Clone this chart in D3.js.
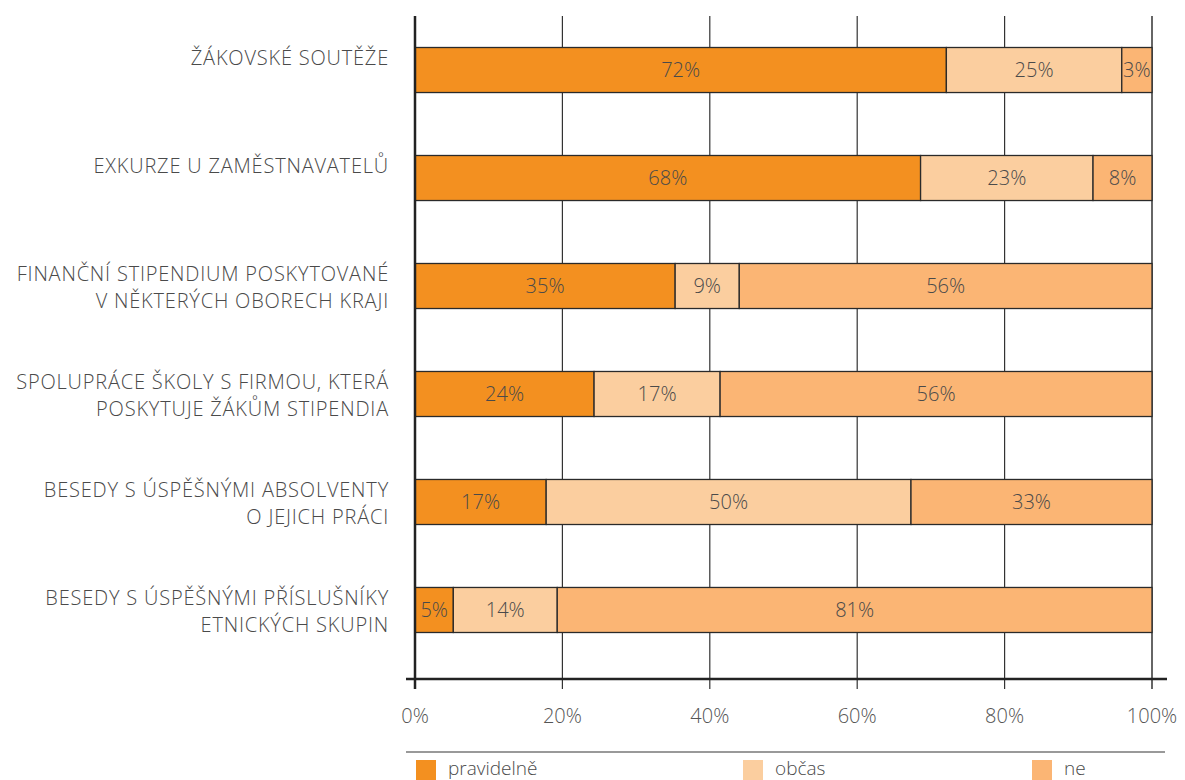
<!DOCTYPE html>
<html>
<head>
<meta charset="utf-8">
<script src="https://cdn.jsdelivr.net/npm/d3@7"></script>
<style>
  html, body { margin: 0; padding: 0; background: #fff; }
  svg { display: block; font-family: "Open Sans", "Liberation Sans", sans-serif; font-weight: 300; }
</style>
</head>
<body>
<svg id="chart" width="1185" height="780"></svg>
<script>
// ---- data ----
const categories = [
  ["ŽÁKOVSKÉ SOUTĚŽE"],
  ["EXKURZE U ZAMĚSTNAVATELŮ"],
  ["FINANČNÍ STIPENDIUM POSKYTOVANÉ", "V NĚKTERÝCH OBORECH KRAJI"],
  ["SPOLUPRÁCE ŠKOLY S FIRMOU, KTERÁ", "POSKYTUJE ŽÁKŮM STIPENDIA"],
  ["BESEDY S ÚSPĚŠNÝMI ABSOLVENTY", "O JEJICH PRÁCI"],
  ["BESEDY S ÚSPĚŠNÝMI PŘÍSLUŠNÍKY", "ETNICKÝCH SKUPIN"]
];
const seriesNames = ["pravidelně", "občas", "ne"];
const pravidelne = [72.1, 68.6, 35.3, 24.3, 17.8, 5.2];
const obcas      = [23.8, 23.4, 8.7, 17.1, 49.5, 14.1];
const ne         = [4.1, 8.0, 56.0, 58.6, 32.7, 80.7];
const labelsPravidelne = ["72%", "68%", "35%", "24%", "17%", "5%"];
const labelsObcas      = ["25%", "23%", "9%", "17%", "50%", "14%"];
const labelsNe         = ["3%", "8%", "56%", "56%", "33%", "81%"];
const xTicks = [0, 20, 40, 60, 80, 100];
const colors = ["#F39020", "#FBCE9F", "#FBB574"];

// ---- layout ----
const svg = d3.select("#chart");
const x = d3.scaleLinear().domain([0, 100]).range([415, 1152]);
const y = d3.scaleBand().domain(d3.range(categories.length)).range([16, 664])
  .paddingInner(0.583).paddingOuter(0.2917).align(0.5);
const axisY = 679, gridTop = 16, gridBottom = 689;

const rows = categories.map((c, i) => {
  const vals = [pravidelne[i], obcas[i], ne[i]];
  const labs = [labelsPravidelne[i], labelsObcas[i], labelsNe[i]];
  let acc = 0;
  return vals.map((v, k) => { const s = { i, k, x0: acc, x1: acc + v, label: labs[k] }; acc += v; return s; });
});

// gridlines
svg.append("g").selectAll("line").data(xTicks.filter(t => t > 0)).join("line")
  .attr("x1", d => x(d)).attr("x2", d => x(d))
  .attr("y1", gridTop).attr("y2", gridBottom)
  .attr("stroke", d => d === 100 ? "#666" : "#333")
  .attr("stroke-width", d => d === 100 ? 2 : 1.2);

// bars
const segs = rows.flat();
svg.append("g").selectAll("rect").data(segs).join("rect")
  .attr("x", d => x(d.x0)).attr("width", d => x(d.x1) - x(d.x0))
  .attr("y", d => y(d.i)).attr("height", y.bandwidth())
  .attr("fill", d => colors[d.k])
  .attr("stroke", "#2a2a2a").attr("stroke-width", 1.3);

svg.append("g").selectAll("text").data(segs).join("text")
  .attr("x", d => (x(d.x0) + x(d.x1)) / 2)
  .attr("y", d => y(d.i) + y.bandwidth() / 2)
  .attr("dy", "0.36em")
  .attr("text-anchor", "middle")
  .attr("font-size", 20)
  .attr("fill", "#4a4a4a")
  .text(d => d.label);

// y axis line
svg.append("line").attr("x1", 415).attr("x2", 415).attr("y1", gridTop).attr("y2", gridBottom)
  .attr("stroke", "#222").attr("stroke-width", 2.5);
// x axis line
svg.append("line").attr("x1", 406).attr("x2", 1167).attr("y1", axisY).attr("y2", axisY)
  .attr("stroke", "#222").attr("stroke-width", 2.5);

// x tick labels
svg.append("g").selectAll("text").data(xTicks).join("text")
  .attr("x", d => x(d)).attr("y", 716).attr("dy", "0.36em")
  .attr("text-anchor", "middle").attr("font-size", 20).attr("fill", "#555")
  .text(d => d + "%");

// category labels
const cat = svg.append("g").selectAll("text").data(categories).join("text")
  .attr("text-anchor", "end").attr("font-size", 20).attr("letter-spacing", 0.8)
  .attr("fill", "#4a4a4a")
  .attr("transform", (d, i) => `translate(389,${y(i) + y.bandwidth() / 2 - 12.5})`);
cat.selectAll("tspan").data(d => d).join("tspan")
  .attr("x", 0).attr("y", (d, j) => j * 27).attr("dy", "0.36em").text(d => d);

// legend
svg.append("line").attr("x1", 406).attr("x2", 1165).attr("y1", 752).attr("y2", 752)
  .attr("stroke", "#777").attr("stroke-width", 1.5);
const legX = [416, 743, 1032];
const leg = svg.append("g").selectAll("g").data(seriesNames).join("g")
  .attr("transform", (d, i) => `translate(${legX[i]},760)`);
leg.append("rect").attr("width", 20).attr("height", 20).attr("fill", (d, i) => colors[i]);
leg.append("text").attr("x", 32).attr("y", 15)
  .attr("font-size", 19).attr("fill", "#4a4a4a").text(d => d);
</script>
</body>
</html>
